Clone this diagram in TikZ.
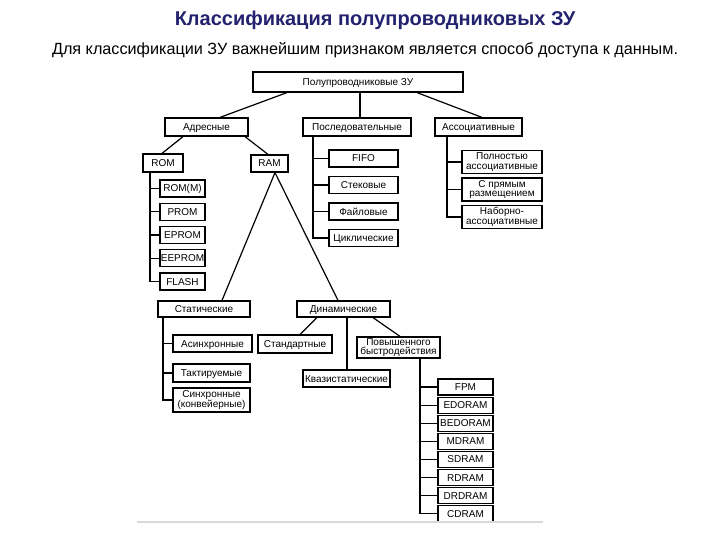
\documentclass[tikz,border=0pt]{standalone}
\usepackage{fontspec}
\setmainfont{Liberation Sans}
\definecolor{navy}{RGB}{34,34,110}
\begin{document}
\begin{tikzpicture}[x=1pt,y=-1pt,
  bx/.style={draw=black,line width=1.2pt,inner sep=0pt,align=center,
     font=\fontsize{10}{9.5}\selectfont},
  one/.style={bx,text height=7pt,text depth=0pt},
  ln/.style={draw=black,line width=1.2pt}]
\useasboundingbox (0,0) rectangle (720,540);
\node[font=\fontsize{20}{22}\selectfont\bfseries,text=navy] (title) at (375,20) {Классификация полупроводниковых ЗУ};
\node[font=\fontsize{16.2}{18}\selectfont] (sub) at (365,50) {Для классификации ЗУ важнейшим признаком является способ доступа к данным.};
% level 1/2
\node[one,minimum width=210,minimum height=20] (root) at (358,82) {Полупроводниковые ЗУ};
\node[one,minimum width=83,minimum height=18] (adr) at (206.5,127) {Адресные};
\node[one,minimum width=108,minimum height=18] (pos) at (357,127) {Последовательные};
\node[one,minimum width=87,minimum height=18] (asc) at (478.5,127) {Ассоциативные};
\draw[ln] ([xshift=-71pt]root.south) -- ([xshift=13.5pt]adr.north);
\draw[ln] ([xshift=2pt]root.south) -- ([xshift=3pt]pos.north);
\draw[ln] ([xshift=59pt]root.south) -- ([xshift=3.5pt]asc.north);
% ROM / RAM
\node[one,minimum width=40,minimum height=18] (rom) at (163,163) {ROM};
\node[one,minimum width=37,minimum height=17] (ram) at (269.5,163.5) {RAM};
\draw[ln] ([xshift=-23.5pt]adr.south) -- ([xshift=-1pt]rom.north);
\draw[ln] ([xshift=38.5pt]adr.south) -- ([xshift=-1.5pt]ram.north);
% ROM children
\foreach \n/\t [count=\i from 0] in {rm/ROM(M),pr/PROM,ep/EPROM,eep/EEPROM,fl/FLASH}{
  \node[one,minimum width=45,minimum height=17] (\n) at (182.5,188.5+\i*23.25) {\t};
  \draw[ln] ([xshift=-13pt]rom.south) |- (\n.west);
}
% sequential children
\foreach \n/\t [count=\i from 0] in {fifo/FIFO,stk/Стековые,fil/Файловые,cyc/Циклические}{
  \node[one,minimum width=69,minimum height=17] (\n) at (363.5,158.5+\i*26.5) {\t};
  \draw[ln] ([xshift=-44pt]pos.south) |- (\n.west);
}
% associative children
\node[bx,minimum width=80,minimum height=23] (fa) at (502,162) {Полностью\\ассоциативные};
\node[bx,minimum width=80,minimum height=23] (dm) at (502,189.5) {С прямым\\размещением};
\node[bx,minimum width=80,minimum height=23] (sa) at (502,217) {Наборно-\\ассоциативные};
\foreach \n in {fa,dm,sa}{\draw[ln] ([xshift=-31.5pt]asc.south) |- (\n.west);}
% static / dynamic
\node[one,minimum width=92,minimum height=16] (st) at (204,309) {Статические};
\node[one,minimum width=93,minimum height=16] (dyn) at (343.5,309) {Динамические};
\draw[ln] ([xshift=5.5pt]ram.south) -- ([xshift=18pt]st.north);
\draw[ln] ([xshift=5.5pt]ram.south) -- ([xshift=-5.5pt]dyn.north);
% static children
\node[one,minimum width=79,minimum height=17] (as) at (212.5,343.5) {Асинхронные};
\node[one,minimum width=77,minimum height=18] (tk) at (211.5,373) {Тактируемые};
\node[bx,minimum width=77,minimum height=24] (sy) at (211.5,400) {Синхронные\\(конвейерные)};
\foreach \n in {as,tk,sy}{\draw[ln] ([xshift=-41pt]st.south) |- (\n.west);}
% dynamic children
\node[one,minimum width=74,minimum height=18] (std) at (295,344) {Стандартные};
\node[one,minimum width=87,minimum height=17] (kv) at (346.5,378.5) {Квазистатические};
\node[bx,minimum width=83,minimum height=21] (pov) at (398.5,347.5) {Повышенного\\быстродействия};
\draw[ln] ([xshift=-26.5pt]dyn.south) -- ([xshift=5pt]std.north);
\draw[ln] ([xshift=3.5pt]dyn.south) -- ([xshift=0.5pt]kv.north);
\draw[ln] ([xshift=29.5pt]dyn.south) -- ([xshift=1.5pt]pov.north);
% DRAM types
\foreach \n/\t [count=\i from 0] in {fpm/FPM,edo/EDORAM,bedo/BEDORAM,md/MDRAM,sd/SDRAM,rd/RDRAM,drd/DRDRAM,cd/CDRAM}{
  \node[one,minimum width=55,minimum height=16] (\n) at (465.5,387+\i*18.1) {\t};
  \draw[ln] ([xshift=21.5pt]pov.south) |- (\n.west);
}
% bottom rule
\draw[gray!30,line width=2pt] (137,522) -- (543,522);
\end{tikzpicture}
\end{document}
